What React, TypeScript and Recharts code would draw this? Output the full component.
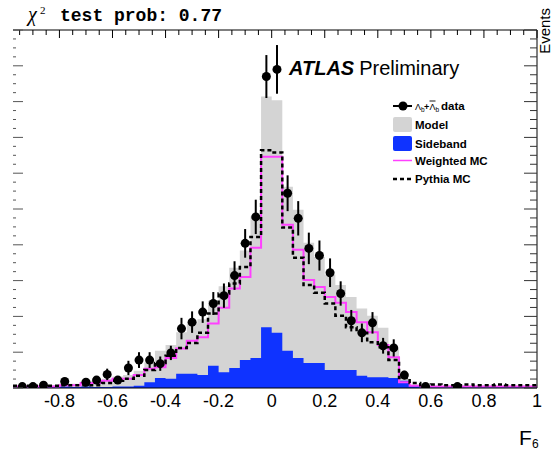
import React from "react";
import { ComposedChart, Area, Line, Scatter, ErrorBar, XAxis, YAxis } from "recharts";

// F6 histogram, 49 bins of 0.04 starting at -0.96 (events per bin)
const dataVals = [2, 2, 4, null, 9, null, 8, 11, 19, 11, 28, 39, 39, 34, 49, 83, 92, 106, 118, 129, 157, 202, 239, 435, 445, 272, 237, 195, 185, 161, 132, 94, 77, 91, 59, 56, 18, null, 2, null, null, 2, null, null, null, null, null, null, null];
const dataErr = [2, 2, 3, 0, 4, 0, 4, 5, 8, 5, 10, 11, 11, 10, 10, 15, 15, 15, 16, 17, 20, 20, 24, 30, 34, 25, 24, 22, 21, 20, 17, 15, 13, 15, 11, 12, 6, 0, 2, 0, 0, 2, 0, 0, 0, 0, 0, 0, 0];
const modelH = [3, 3, 4, 4, 6, 6, 10, 10, 13, 16, 18, 24, 36, 52, 60, 78, 90, 96, 122, 142, 168, 192, 240, 407, 402, 281, 249, 203, 183, 158, 144, 127, 111, 101, 84, 55, 13, 5, 3, 3, 3, 3, 3, 3, 3, 3, 3, 3, 3];
const sidebandH = [0.7, 0.7, 1, 1, 2, 1.5, 2, 1.5, 1.5, 2, 2, 3, 8, 14, 13, 20, 20, 18, 31, 22, 28, 39, 42, 85, 77, 52, 42, 35, 35, 25, 25, 25, 17, 15, 15, 14, 10, 3, 1, 1, 1, 1, 1, 1, 1, 1, 1, 1, 1];
const weightedMC = [2, 2, 2, 2, 4, 4, 7, 7, 10, 13, 13, 18, 27, 29, 42, 55, 66, 71, 90, 112, 139, 155, 196, 323, 323, 228, 193, 151, 141, 127, 119, 106, 92, 78, 60, 43, 8, 3, 2, 2, 2, 2, 2, 2, 2, 2, 2, 2, 2];
const pythiaMC = [3, 3, 3, 3, 4, 4, 4, 4, 7, 10, 13, 17, 25, 35, 45, 56, 63, 77, 104, 132, 146, 169, 211, 332, 329, 224, 182, 144, 133, 118, 101, 85, 77, 64, 57, 39, 14, 7, 4, 5, 4, 4, 5, 4, 4, 5, 4, 4, 4];

const xLabels = [-0.8, -0.6, -0.4, -0.2, 0, 0.2, 0.4, 0.6, 0.8, 1];
const X_MIN = -0.975;
const X_MAX = 1;
const Y_MAX = 500;

const binLow = weightedMC.map((_, i) => Math.round((-0.96 + 0.04 * i) * 100) / 100);

const histRows = binLow.map((e, i) => ({
  x: i === 0 ? X_MIN : e,
  model: modelH[i],
  side: sidebandH[i],
  wmc: weightedMC[i],
  pythia: pythiaMC[i],
}));
const last = histRows[histRows.length - 1];
histRows.push({ ...last, x: X_MAX });

const points = binLow
  .map((e, i) => ({ x: Math.round((e + 0.02) * 100) / 100, y: dataVals[i], err: dataErr[i] }))
  .filter((p) => p.y !== null);

const topTicks = Array.from({ length: 40 }, (_, i) => Math.round((-0.95 + 0.05 * i) * 100) / 100);
const yTicks = Array.from({ length: 41 }, (_, i) => i * 12.5);

const isMajorX = (v: number) => Math.abs(v * 5 - Math.round(v * 5)) < 1e-6;
const isMajorY = (v: number) => v % 50 === 0;

// tick label / tick mark renderers; coordinates come from the axis
const BottomLabel = ({ x, y, payload }: any) => (
  <text x={x} y={y + 19} textAnchor="middle" fontSize={18} fontFamily="Liberation Sans" fill="#000">
    {String(payload.value)}
  </text>
);
const TopTick = ({ x, y, payload }: any) => (
  <line x1={x} x2={x} y1={y} y2={y + (isMajorX(payload.value) ? 8 : 5)} stroke="#000" strokeWidth={1} />
);
const LeftTick = ({ x, y, payload }: any) => (
  <line x1={x} x2={x + (isMajorY(payload.value) ? 10 : 3)} y1={y} y2={y} stroke="#555" strokeWidth={1} />
);
const RightTick = ({ x, y, payload }: any) => (
  <line x1={x} x2={x - (isMajorY(payload.value) ? 13 : 7)} y1={y} y2={y} stroke="#333" strokeWidth={1} />
);
const DataDot = (p: any) => <circle cx={p.cx} cy={p.cy} r={4.5} fill="#000" />;

const GRAY = "#d4d4d4";
const BLUE = "#0f33ff";
const PINK = "#ff40ff";

const sans = "Liberation Sans, Arial, sans-serif";

const App = () => (
  <div style={{ position: "absolute", left: 0, top: 0, width: 554, height: 452, background: "#fff" }}>
    <ComposedChart width={554} height={452} data={histRows} margin={{ top: 28, right: 15, bottom: 34, left: 11 }}>
      <XAxis xAxisId="b" dataKey="x" type="number" domain={[X_MIN, X_MAX]} allowDataOverflow ticks={xLabels}
        interval={0} height={30} tickSize={0} tickMargin={0} tickLine={false} axisLine={{ stroke: "#000" }} tick={BottomLabel} />
      <XAxis xAxisId="top" orientation="top" dataKey="x" type="number" domain={[X_MIN, X_MAX]} allowDataOverflow ticks={topTicks}
        interval={0} height={2} tickSize={0} tickMargin={0} tickLine={false} axisLine={{ stroke: "#000" }} tick={TopTick} />
      <YAxis yAxisId="l" type="number" domain={[0, Y_MAX]} allowDataOverflow ticks={yTicks} interval={0} width={2}
        tickSize={0} tickMargin={0} tickLine={false} axisLine={false} tick={LeftTick} />
      <YAxis yAxisId="r" orientation="right" type="number" domain={[0, Y_MAX]} allowDataOverflow ticks={yTicks} interval={0} width={2}
        tickSize={0} tickMargin={0} tickLine={false} axisLine={{ stroke: "#000" }} tick={RightTick} />

      <Area xAxisId="b" yAxisId="l" type="stepAfter" dataKey="model" fill={GRAY} fillOpacity={1} stroke="none" isAnimationActive={false} dot={false} activeDot={false} />
      <Area xAxisId="b" yAxisId="l" type="stepAfter" dataKey="side" fill={BLUE} fillOpacity={1} stroke="none" isAnimationActive={false} dot={false} activeDot={false} />
      <Line xAxisId="b" yAxisId="l" type="stepAfter" dataKey="wmc" stroke={PINK} strokeWidth={2} dot={false} activeDot={false} isAnimationActive={false} />
      <Line xAxisId="b" yAxisId="l" type="stepAfter" dataKey="pythia" stroke="#000" strokeWidth={2.5} strokeDasharray="4 3" dot={false} activeDot={false} isAnimationActive={false} />
      <Scatter xAxisId="b" yAxisId="l" data={points} dataKey="y" shape={DataDot} isAnimationActive={false}>
        <ErrorBar dataKey="err" direction="y" width={0} stroke="#000" strokeWidth={2} />
      </Scatter>
    </ComposedChart>

    <svg width={554} height={452} style={{ position: "absolute", left: 0, top: 0, pointerEvents: "none" }}>
      <text x={28} y={21} fontSize={20} fontStyle="italic" fontFamily="Liberation Serif, serif">χ</text>
      <text x={40} y={14} fontSize={11} fontFamily="Liberation Serif, serif">2</text>
      <text x={60} y={21} fontSize={18} fontWeight="bold" fontFamily="Liberation Mono, monospace">test prob: 0.77</text>

      <text x={289} y={75} fontSize={20} fontFamily={sans}>
        <tspan fontWeight="bold" fontStyle="italic">ATLAS</tspan>
        <tspan dx={5}>Preliminary</tspan>
      </text>

      {/* legend */}
      <line x1={393} x2={412} y1={106} y2={106} stroke="#000" strokeWidth={2} />
      <circle cx={403} cy={106} r={4.5} fill="#000" />
      <text x={415} y={109.5} fontSize={9} fontFamily={sans}>Λ</text>
      <text x={421} y={111.5} fontSize={6.5} fontFamily={sans}>b</text>
      <text x={424} y={109.5} fontSize={9} fontWeight="bold" fontFamily={sans}>+</text>
      <text x={429.5} y={109.5} fontSize={9} fontFamily={sans}>Λ</text>
      <line x1={429.5} x2={435.5} y1={101} y2={101} stroke="#000" strokeWidth={0.9} />
      <text x={435.5} y={111.5} fontSize={6.5} fontFamily={sans}>b</text>
      <text x={441} y={110} fontSize={11.5} fontWeight="bold" fontFamily={sans}>data</text>

      <rect x={393} y={117} width={19} height={15} rx={2} fill={GRAY} />
      <text x={415} y={128.5} fontSize={11.5} fontWeight="bold" fontFamily={sans}>Model</text>
      <rect x={393} y={136} width={19} height={15} rx={2} fill={BLUE} />
      <text x={415} y={147.5} fontSize={11.5} fontWeight="bold" fontFamily={sans}>Sideband</text>
      <line x1={393} x2={412} y1={160.5} y2={160.5} stroke={PINK} strokeWidth={1.5} />
      <text x={415} y={165} fontSize={11.5} fontWeight="bold" fontFamily={sans}>Weighted MC</text>
      <line x1={393} x2={412} y1={179} y2={179} stroke="#000" strokeWidth={2.5} strokeDasharray="4 3" />
      <text x={415} y={183} fontSize={11.5} fontWeight="bold" fontFamily={sans}>Pythia MC</text>

      <text x={519} y={445} fontSize={21} fontFamily={sans}>F</text>
      <text x={532} y={448} fontSize={12} fontFamily={sans}>6</text>

      <text transform="translate(550, 8) rotate(-90)" textAnchor="end" fontSize={15} fontFamily={sans}>Events</text>
    </svg>
  </div>
);

export default App;
